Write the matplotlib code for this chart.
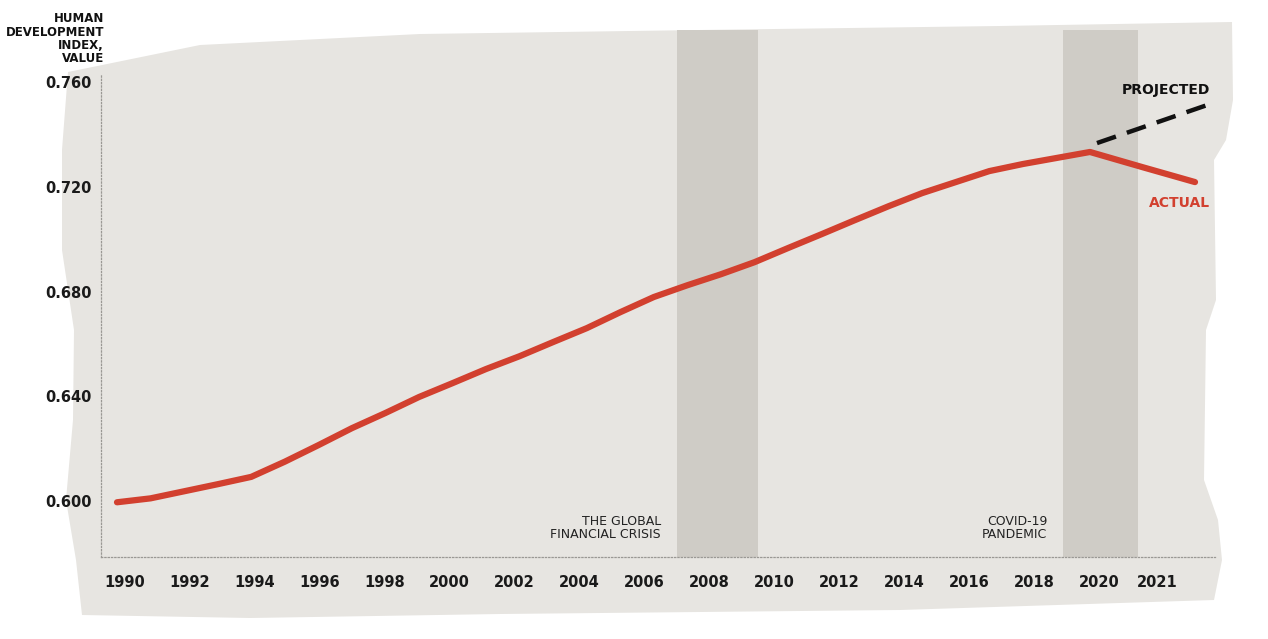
import numpy as np
import matplotlib.pyplot as plt
from matplotlib.patches import Polygon

# data
years = np.arange(1990, 2022)
hdi = [0.5995, 0.6010, 0.6037, 0.6064, 0.6092, 0.6150, 0.6213, 0.6278,
       0.6336, 0.6397, 0.6450, 0.6504, 0.6553, 0.6607, 0.6660, 0.6721,
       0.6779, 0.6824, 0.6866, 0.6912, 0.6966, 0.7019, 0.7073, 0.7126,
       0.7176, 0.7218, 0.7260, 0.7287, 0.7310, 0.7333, 0.7275, 0.7218]
proj_years = [2019, 2021]
proj_hdi = [0.7367, 0.7512]
tick_years = [1990, 1992, 1994, 1996, 1998, 2000, 2002, 2004, 2006, 2008,
              2010, 2012, 2014, 2016, 2018, 2020, 2021]
yticks = [0.600, 0.640, 0.680, 0.720, 0.760]
crises = [("THE GLOBAL\nFINANCIAL CRISIS", 2007, 2009.5),
          ("COVID-19\nPANDEMIC", 2018.9, 2021.2)]

W, H = 1268, 639
fig = plt.figure(figsize=(W / 100, H / 100), dpi=100)
fig.patch.set_facecolor("white")

# torn paper background (pixel outline), in its own axes behind the chart
bg = fig.add_axes([0, 0, 1, 1], zorder=0)
bg.set_xlim(0, W)
bg.set_ylim(H, 0)
bg.axis("off")
paper = [(68, 72), (200, 45), (420, 34), (700, 30), (1000, 26), (1232, 22),
         (1233, 100), (1226, 140), (1214, 160), (1216, 300), (1206, 330),
         (1204, 480), (1218, 520), (1222, 560), (1214, 600), (900, 610),
         (500, 614), (250, 618), (82, 615), (76, 560), (66, 500), (73, 420),
         (74, 330), (62, 250), (62, 150)]
bg.add_patch(Polygon(paper, closed=True, facecolor="#e7e5e1", edgecolor="none"))

ax = fig.add_axes([101 / W, (H - 557) / H, (1215 - 101) / W, (557 - 75) / H], zorder=1)
ax.set_facecolor("none")

# label scale: 1990 -> 125px, 32.47px per year
def px2yr(px):
    return 1990 + (px - 125) / 32.47

# the drawn line is stretched relative to the labels
line_x = np.interp(years, [1990, 2019, 2021], [px2yr(117), px2yr(1090), px2yr(1195)])
proj_x = np.interp(proj_years, [2019, 2021], [px2yr(1097), px2yr(1207)])

for label, x0, x1 in crises:
    ax.axvspan(x0, x1, ymin=0, ymax=1.093, clip_on=False,
               facecolor="#cfccc6", edgecolor="none", zorder=1)
    ax.text(x0 - 0.5, 0.5945, label, ha="right", va="top", fontsize=9,
            color="#222222", linespacing=1.0, zorder=3)

ax.plot(line_x, hdi, color="#d2402f", lw=4.5, solid_capstyle="round", zorder=4)
ax.plot(proj_x, proj_hdi, color="#111111", lw=3.2, dashes=(4.5, 2.6), zorder=4)

ax.text(px2yr(1210), 0.7568, "PROJECTED", ha="right", va="center",
        fontsize=10, fontweight="bold", color="#111111")
ax.text(px2yr(1210), 0.7137, "ACTUAL", ha="right", va="center",
        fontsize=10, fontweight="bold", color="#d2402f")

ax.set_xlim(px2yr(101), px2yr(1215))
ax.set_ylim(0.5786, 0.7627)
ax.set_yticks(yticks)
ax.set_yticklabels([f"{v:.3f}" for v in yticks])
tick_pos = [y if y != 2021 else px2yr(1157) for y in tick_years]
ax.set_xticks(tick_pos)
ax.set_xticklabels([str(y) for y in tick_years])
ax.tick_params(length=0, labelsize=10.5, colors="#1a1a1a")
ax.tick_params(axis="x", pad=13)
ax.tick_params(axis="y", pad=7)
for t in ax.get_xticklabels() + ax.get_yticklabels():
    t.set_fontweight("bold")

for s in ["top", "right"]:
    ax.spines[s].set_visible(False)
for s in ["left", "bottom"]:
    ax.spines[s].set_linestyle(":")
    ax.spines[s].set_color("#9a9894")
    ax.spines[s].set_linewidth(0.9)

fig.text(104 / W, 1 - 12 / H, "HUMAN\nDEVELOPMENT\nINDEX,\nVALUE", ha="right",
         va="top", fontsize=8.5, fontweight="bold", color="#111111", linespacing=1.05)

fig.savefig("out.png", dpi=100)
